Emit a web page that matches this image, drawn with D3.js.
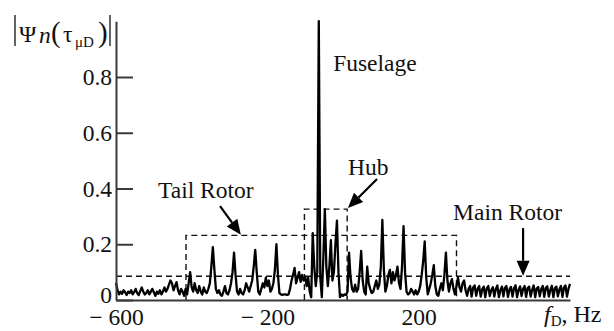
<!DOCTYPE html>
<html>
<head>
<meta charset="utf-8">
<script src="https://cdn.jsdelivr.net/npm/d3@7"></script>
<style>
  html, body { margin: 0; padding: 0; background: #fff; }
  svg { display: block; font-family: "Liberation Serif", "Times New Roman", serif; }
</style>
</head>
<body>
<svg id="chart" width="614" height="331"></svg>
<script>
// Doppler spectrum |Ψn(τμD)| of a helicopter return, sampled every 4 Hz from -600 Hz
const freqStart = -600;
const freqStep = 4;
const magnitude = [
  0.062, 0.035, 0.02, 0.03, 0.022, 0.035, 0.028, 0.018, 0.03, 0.025,
  0.035, 0.02, 0.028, 0.04, 0.025, 0.018, 0.032, 0.045, 0.03, 0.02,
  0.025, 0.035, 0.02, 0.03, 0.04, 0.028, 0.015, 0.03, 0.022, 0.035,
  0.02, 0.03, 0.045, 0.03, 0.04, 0.055, 0.07, 0.06, 0.035, 0.05,
  0.064, 0.035, 0.02, 0.04, 0.03, 0.015, 0.04, 0.02, 0.06, 0.1,
  0.045, 0.03, 0.06, 0.035, 0.025, 0.05, 0.03, 0.02, 0.045, 0.03,
  0.025, 0.04, 0.06, 0.12, 0.19, 0.11, 0.04, 0.025, 0.035, 0.02,
  0.015, 0.03, 0.05, 0.025, 0.02, 0.035, 0.06, 0.1, 0.17, 0.09,
  0.03, 0.02, 0.04, 0.025, 0.02, 0.035, 0.06, 0.045, 0.03, 0.05,
  0.07, 0.12, 0.18, 0.1, 0.03, 0.02, 0.04, 0.06, 0.045, 0.08,
  0.05, 0.07, 0.03, 0.04, 0.06, 0.11, 0.2, 0.09, 0.025, 0.02,
  0.018, 0.02, 0.02, 0.018, 0.02, 0.04, 0.07, 0.09, 0.115, 0.06,
  0.08, 0.1, 0.065, 0.09, 0.07, 0.085, 0.05, 0.08, 0.03, 0.01,
  0.24, 0.12, 0.05, 0.1, 1.0, 0.08, 0.01, 0.15, 0.326, 0.12,
  0.05, 0.12, 0.215, 0.07, 0.1, 0.2, 0.285, 0.1, 0.01, 0.02,
  0.015, 0.02, 0.018, 0.03, 0.17, 0.08, 0.04, 0.03, 0.055, 0.03,
  0.04, 0.1, 0.176, 0.07, 0.03, 0.02, 0.12, 0.06, 0.04, 0.025,
  0.03, 0.05, 0.07, 0.04, 0.055, 0.12, 0.287, 0.11, 0.03, 0.05,
  0.09, 0.108, 0.06, 0.1, 0.07, 0.09, 0.12, 0.06, 0.04, 0.12,
  0.265, 0.1, 0.03, 0.02, 0.025, 0.04, 0.03, 0.02, 0.035, 0.02,
  0.03, 0.05, 0.09, 0.14, 0.21, 0.08, 0.02, 0.04, 0.06, 0.09,
  0.125, 0.05, 0.02, 0.015, 0.04, 0.06, 0.035, 0.09, 0.17, 0.07,
  0.03, 0.06, 0.075, 0.04, 0.02, 0.05, 0.08, 0.045, 0.03, 0.06,
  0.07, 0.035, 0.015, 0.04, 0.05, 0.012, 0.045, 0.052, 0.015, 0.04,
  0.05, 0.012, 0.038, 0.048, 0.01, 0.042, 0.05, 0.014, 0.036, 0.046,
  0.012, 0.04, 0.052, 0.01, 0.035, 0.048, 0.013, 0.044, 0.05, 0.011,
  0.038, 0.047, 0.012, 0.042, 0.053, 0.01, 0.036, 0.049, 0.014, 0.04,
  0.05, 0.011, 0.043, 0.048, 0.012, 0.037, 0.052, 0.01, 0.041, 0.047,
  0.013, 0.039, 0.05, 0.011, 0.044, 0.049, 0.012, 0.036, 0.051, 0.01,
  0.042, 0.048, 0.013, 0.038, 0.05, 0.011, 0.045, 0.052, 0.012, 0.04,
  0.058
];

const xDomain = [-600, 600];
const yDomain = [0, 1];
const xTickValues = [-600, -200, 200];
const yTickValues = [0, 0.2, 0.4, 0.6, 0.8];

// Dashed guide levels for the scatterer groups
const mainRotorLevel = 0.085;
const tailRotorBand = [-415, 300];
const tailRotorLevel = 0.232;
const hubBand = [-102, 11];
const hubLevel = 0.326;

// Text labels: name, anchor frequency, anchor magnitude (baseline)
const labelNames = ["Fuselage", "Hub", "Tail Rotor", "Main Rotor"];
const labelFreq = [-26, 13, -489, 291];
const labelMag = [0.82, 0.448, 0.366, 0.287];

// Arrows: start (freq, mag) -> tip (freq, mag)
const arrowFrom = [[-325, 0.337], [90, 0.434], [476, 0.258]];
const arrowTo = [[-270, 0.234], [13, 0.33], [476, 0.087]];

const svg = d3.select("#chart");
const x = d3.scaleLinear().domain(xDomain).range([116, 570]);
const y = d3.scaleLinear().domain(yDomain).range([300, 21.25]);

const ink = "#111";
const axisInk = "#3a3a3a";
const fontSize = "23.5px";

const points = magnitude.map((v, i) => [freqStart + i * freqStep, v]);

// Dashed guides
const guides = svg.append("g")
  .attr("fill", "none")
  .attr("stroke", ink)
  .attr("stroke-width", 1.4)
  .attr("stroke-dasharray", "6,4");

guides.append("path")
  .attr("d", d3.line()([[x(xDomain[0]), y(mainRotorLevel)], [x(xDomain[1]), y(mainRotorLevel)]]));

guides.append("path")
  .attr("d", d3.line()([
    [x(tailRotorBand[0]), y(0)],
    [x(tailRotorBand[0]), y(tailRotorLevel)],
    [x(tailRotorBand[1]), y(tailRotorLevel)],
    [x(tailRotorBand[1]), y(0)]
  ]));

guides.append("path")
  .attr("d", d3.line()([
    [x(hubBand[0]), y(0)],
    [x(hubBand[0]), y(hubLevel)],
    [x(hubBand[1]), y(hubLevel)],
    [x(hubBand[1]), y(0)]
  ]));

// Spectrum trace
svg.append("path")
  .datum(points)
  .attr("fill", "none")
  .attr("stroke", "#000")
  .attr("stroke-width", 2.3)
  .attr("stroke-linejoin", "round")
  .attr("d", d3.line().x(d => x(d[0])).y(d => y(d[1])));

// Y axis with inward ticks
const yAxis = d3.axisLeft(y)
  .tickValues(yTickValues)
  .tickSizeInner(-17)
  .tickSizeOuter(0)
  .tickPadding(4)
  .tickFormat(d => d === 0 ? "0" : d3.format(".1f")(d));

const gy = svg.append("g")
  .attr("transform", `translate(${x(xDomain[0])},0)`)
  .call(yAxis);
gy.select(".domain").attr("stroke", axisInk).attr("stroke-width", 2);
gy.selectAll(".tick line").attr("stroke", axisInk).attr("stroke-width", 2);
gy.selectAll(".tick text")
  .attr("fill", ink)
  .attr("dy", d => d === 0 ? "0.1em" : "0.32em")
  .style("font-family", "'Liberation Serif', serif")
  .style("font-size", fontSize);

// X axis without tick marks
const xAxis = d3.axisBottom(x)
  .tickValues(xTickValues)
  .tickSize(0)
  .tickPadding(9)
  .tickFormat(d => d < 0 ? "\u2212 " + Math.abs(d) : String(d));

const gx = svg.append("g")
  .attr("transform", `translate(0,${y(0)})`)
  .call(xAxis);
gx.select(".domain").attr("stroke", axisInk).attr("stroke-width", 2.2);
gx.selectAll(".tick text")
  .attr("fill", ink)
  .attr("dy", "0.66em")
  .style("font-family", "'Liberation Serif', serif")
  .style("font-size", fontSize);

// X axis title: f_D, Hz
const xt = svg.append("text")
  .attr("x", 544)
  .attr("y", 322)
  .attr("fill", ink)
  .style("font-size", "24px");
xt.append("tspan").style("font-style", "italic").text("f");
xt.append("tspan").attr("dy", 4).style("font-size", "15px").text("D");
xt.append("tspan").attr("dy", -4).text(", Hz");

// Y axis title: |Ψn(τμD)|
const yt = svg.append("g").attr("fill", ink);
yt.append("line").attr("x1", 15).attr("x2", 15).attr("y1", 15).attr("y2", 46)
  .attr("stroke", ink).attr("stroke-width", 1.3);
yt.append("line").attr("x1", 110).attr("x2", 110).attr("y1", 15).attr("y2", 46)
  .attr("stroke", ink).attr("stroke-width", 1.3);
yt.append("text").attr("x", 19).attr("y", 42).style("font-size", fontSize).text("Ψ");
yt.append("text").attr("x", 39).attr("y", 43).style("font-size", fontSize).style("font-style", "italic").text("n");
yt.append("text").attr("x", 51).attr("y", 42).style("font-size", "29px").text("(");
yt.append("text").attr("x", 63).attr("y", 42).style("font-size", fontSize).text("τ");
yt.append("text").attr("x", 75).attr("y", 47).style("font-size", "15px").text("μD");
yt.append("text").attr("x", 98).attr("y", 42).style("font-size", "29px").text(")");

// Annotation labels
svg.append("g")
  .selectAll("text")
  .data(labelNames)
  .join("text")
  .attr("x", (d, i) => x(labelFreq[i]))
  .attr("y", (d, i) => y(labelMag[i]))
  .attr("fill", ink)
  .style("font-size", fontSize)
  .text(d => d);

// Annotation arrows
const arrows = svg.append("g");
arrowFrom.forEach((from, i) => {
  const x0 = x(from[0]), y0 = y(from[1]);
  const x1 = x(arrowTo[i][0]), y1 = y(arrowTo[i][1]);
  const len = Math.hypot(x1 - x0, y1 - y0);
  const ux = (x1 - x0) / len, uy = (y1 - y0) / len;
  const headLen = 15, headHalf = 6.5;
  const bx = x1 - ux * headLen, by = y1 - uy * headLen;
  arrows.append("line")
    .attr("x1", x0).attr("y1", y0).attr("x2", bx).attr("y2", by)
    .attr("stroke", "#000").attr("stroke-width", 2.2);
  arrows.append("path")
    .attr("d", `M${x1},${y1} L${bx - uy * headHalf},${by + ux * headHalf} L${bx + uy * headHalf},${by - ux * headHalf} Z`)
    .attr("fill", "#000");
});
</script>
</body>
</html>
